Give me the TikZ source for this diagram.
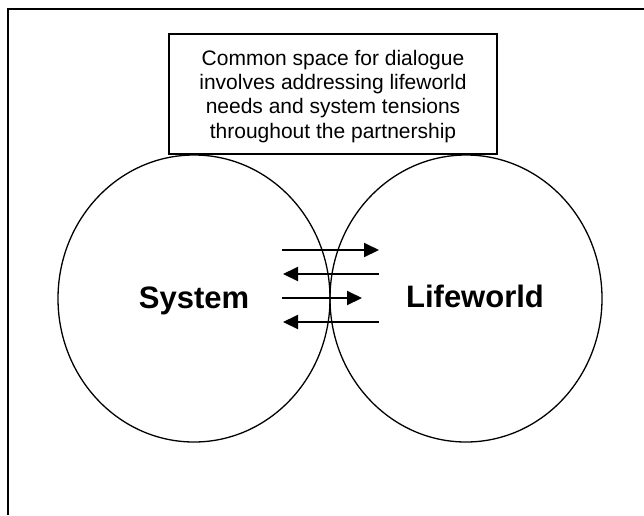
\documentclass[tikz,border=0pt]{standalone}
\usepackage{fontspec}
\setmainfont{Liberation Sans}
\usetikzlibrary{shapes.geometric,arrows.meta}
\begin{document}
\begin{tikzpicture}[x=1pt,y=-1pt,
  world/.style={draw, ellipse, line width=1.3pt, minimum width=272pt, minimum height=287pt, inner sep=0pt},
  worldname/.style={anchor=base, font=\fontsize{31}{36}\selectfont\bfseries},
  notebox/.style={draw, fill=white, line width=1.5pt, minimum width=328pt, minimum height=120pt, inner sep=0pt},
  notetext/.style={align=center, inner sep=0pt, font=\fontsize{21}{24.3}\selectfont},
  flow/.style={line width=2pt, -{Triangle[length=15pt, width=14pt]}}]
\useasboundingbox (0,0) rectangle (644,515);
% page frame: top and left rules
\draw[line width=2pt] (8,515) -- (8,9) -- (644,9);
% the two spheres
\node[world] (system) at (194,298.5) {};
\node[world] (lifeworld) at (466,298.5) {};
\node[worldname] (systemname) at (194,308) {System};
\node[worldname] (lifeworldname) at (475,307) {Lifeworld};
% note above the spheres
\node[notebox] (note) at (333,94) {};
\node[notetext] (notetxt) at (333,96.4) {Common space for dialogue\\involves addressing lifeworld\\needs and system tensions\\throughout the partnership};
% exchange arrows across the contact point
\coordinate (a1s) at (282,250);
\coordinate (a1e) at (379,250);
\coordinate (a2s) at (379,274);
\coordinate (a2e) at (283,274);
\coordinate (a3s) at (282,298);
\coordinate (a3e) at (362,298);
\coordinate (a4s) at (379,322);
\coordinate (a4e) at (283,322);
\draw[flow] (a1s) -- (a1e);
\draw[flow] (a2s) -- (a2e);
\draw[flow] (a3s) -- (a3e);
\draw[flow] (a4s) -- (a4e);
\end{tikzpicture}
\end{document}
